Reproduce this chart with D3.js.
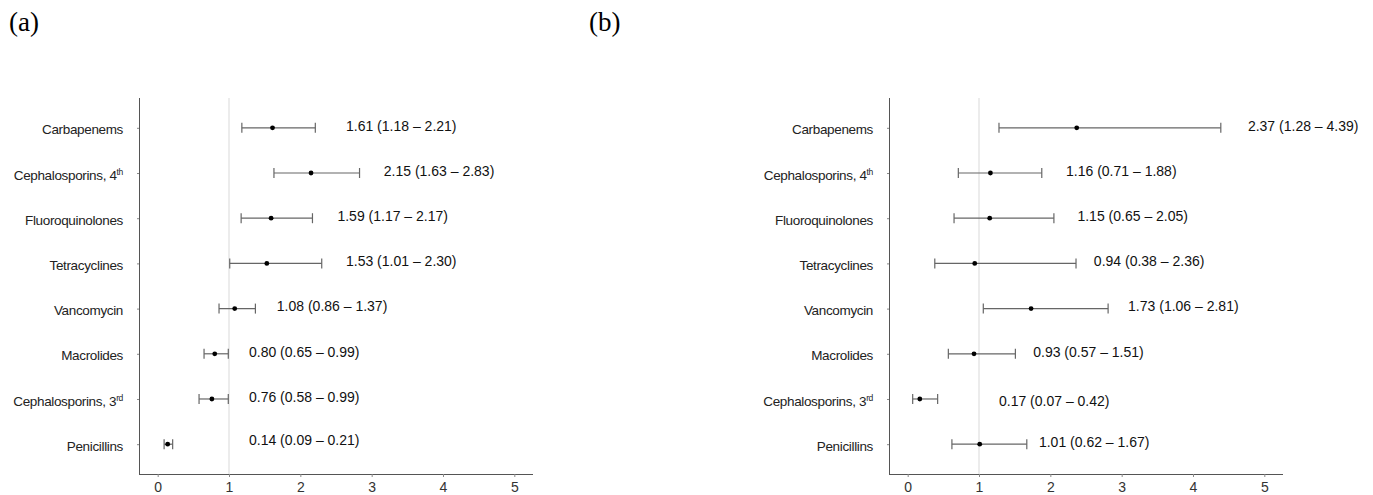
<!DOCTYPE html>
<html><head><meta charset="utf-8">
<script src="https://cdn.jsdelivr.net/npm/d3@7"></script>
<style>body{margin:0;background:#fff}svg{display:block}</style>
</head><body>
<script>
const categories = ["Carbapenems","Cephalosporins, 4","Fluoroquinolones","Tetracyclines","Vancomycin","Macrolides","Cephalosporins, 3","Penicillins"];
const superscripts = ["","th","","","","","rd",""];
const xTicks = [0,1,2,3,4,5];
const panelLabels = ["(a)","(b)"];
// panel (a)
const estA = [1.61,2.15,1.59,1.53,1.08,0.80,0.76,0.14];
const lowA = [1.18,1.63,1.17,1.01,0.86,0.65,0.58,0.09];
const highA = [2.21,2.83,2.17,2.30,1.37,0.99,0.99,0.21];
const labelAtA = [2.64,3.17,2.52,2.64,1.67,1.28,1.28,1.28];
// panel (b)
const estB = [2.37,1.16,1.15,0.94,1.73,0.93,0.17,1.01];
const lowB = [1.28,0.71,0.65,0.38,1.06,0.57,0.07,0.62];
const highB = [4.39,1.88,2.05,2.36,2.81,1.51,0.42,1.67];
const labelAtB = [4.77,2.22,2.38,2.61,3.09,1.76,1.28,1.84];

const W=1373,H=495;
const svg=d3.select("body").append("svg").attr("width",W).attr("height",H);
const fmt=d3.format(".2f");
const FONT="Liberation Sans, Arial, sans-serif";

function panel(est,low,high,labelAt,x0,x1,tag,tagX,labelDy){
  const x=d3.scaleLinear().domain([-0.262,5.262]).range([x0,x1]);
  const y=d3.scalePoint().domain(categories).range([98,474]).padding(0.66);
  const g=svg.append("g");
  g.append("line").attr("x1",x(1)).attr("x2",x(1)).attr("y1",98).attr("y2",474)
    .attr("stroke","#d9d9d9").attr("stroke-width",1);
  const xa=g.append("g").attr("transform","translate(0,474)")
    .call(d3.axisBottom(x).tickValues(xTicks).tickFormat(d3.format("d")).tickSize(3).tickPadding(5).tickSizeOuter(0));
  xa.select(".domain").attr("stroke","#555").attr("d",`M${x0},0.5H${x1}`);
  xa.selectAll(".tick line").attr("stroke","#888");
  xa.selectAll("text").attr("font-family",FONT).attr("font-size",14).attr("fill","#333");
  const ya=g.append("g").attr("transform",`translate(${x0},0)`)
    .call(d3.axisLeft(y).tickSize(2).tickPadding(14).tickSizeOuter(0));
  ya.select(".domain").attr("stroke","#555").attr("d","M0.5,98V474");
  ya.selectAll(".tick line").attr("stroke","#888");
  ya.selectAll(".tick text").attr("font-family",FONT).attr("font-size",13.5).attr("fill","#222")
    .attr("letter-spacing","-0.35").attr("dy","0.45em")
    .each(function(d,i){
      const s=superscripts[i];
      if(s){
        d3.select(this).append("tspan").attr("font-size",8.5).attr("dy",-5).text(s);
      }
    });
  const rows=categories.map((c,i)=>({c,i,e:est[i],l:low[i],h:high[i],la:labelAt[i]}));
  const r=g.selectAll("g.row").data(rows).join("g").attr("class","row");
  r.append("line").attr("x1",d=>x(d.l)).attr("x2",d=>x(d.h)).attr("y1",d=>y(d.c)).attr("y2",d=>y(d.c))
    .attr("stroke","#666").attr("stroke-width",1.2);
  r.append("line").attr("x1",d=>x(d.l)).attr("x2",d=>x(d.l)).attr("y1",d=>y(d.c)-5).attr("y2",d=>y(d.c)+5)
    .attr("stroke","#666").attr("stroke-width",1.2);
  r.append("line").attr("x1",d=>x(d.h)).attr("x2",d=>x(d.h)).attr("y1",d=>y(d.c)-5).attr("y2",d=>y(d.c)+5)
    .attr("stroke","#666").attr("stroke-width",1.2);
  r.append("circle").attr("cx",d=>x(d.e)).attr("cy",d=>y(d.c)).attr("r",2.4).attr("fill","#000");
  r.append("text").attr("x",d=>x(d.la)).attr("y",d=>y(d.c)+(labelDy[d.i]||0)).attr("dy","0.2em")
    .attr("font-family",FONT).attr("font-size",14).attr("fill","#111")
    .text(d=>`${fmt(d.e)} (${fmt(d.l)} \u2013 ${fmt(d.h)})`);
  svg.append("text").attr("x",tagX).attr("y",31).attr("font-family","Liberation Serif, Times New Roman, serif")
    .attr("font-size",27).attr("fill","#000").text(tag);
}
panel(estA,lowA,highA,labelAtA,139,533,panelLabels[0],9,[0,0,0,0,0,0,0,-2]);
panel(estB,lowB,highB,labelAtB,889,1283,panelLabels[1],589,[0,0,0,0,0,0,4,0]);
</script>
</body></html>
